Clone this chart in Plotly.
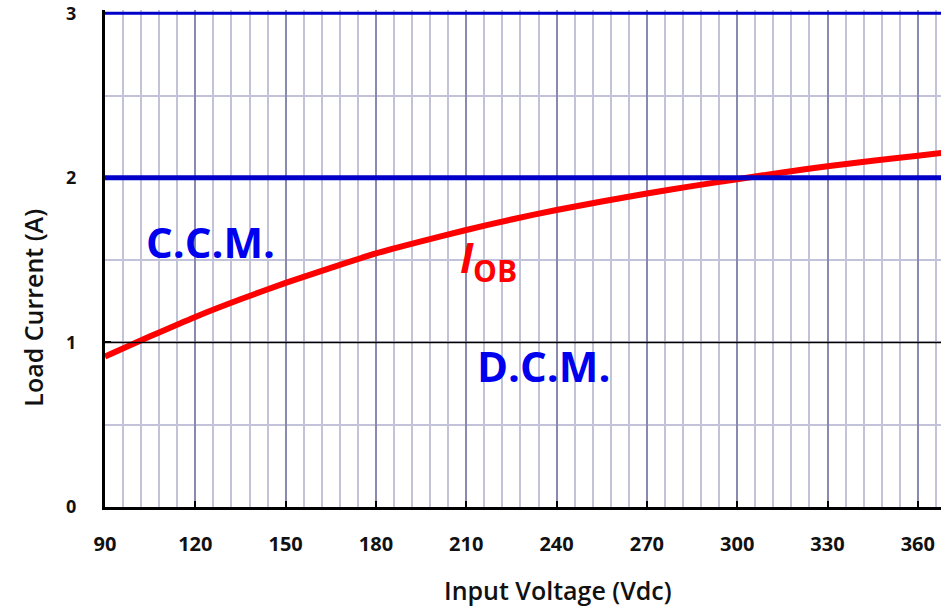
import plotly.graph_objects as go

# Input voltage (Vdc) and boundary load current I_OB (A)
voltage = [90, 105, 120, 135, 150, 165, 180, 195, 210, 225, 240, 255, 270, 285, 300, 315, 330, 345, 360, 368]
i_ob = [0.915, 1.037, 1.155, 1.262, 1.362, 1.453, 1.541, 1.614, 1.683, 1.747, 1.805, 1.856, 1.905, 1.950,
        1.992, 2.033, 2.071, 2.104, 2.134, 2.152]

x_ticks = [90, 120, 150, 180, 210, 240, 270, 300, 330, 360]
y_ticks = [0, 1, 2, 3]
rated_current = 2      # CCM/DCM design limit line
max_current = 3        # top limit line
unit_line = 1

fig = go.Figure()
fig.add_trace(go.Scatter(x=voltage, y=i_ob, mode="lines",
                         line=dict(color="#ff0000", width=6, shape="spline", smoothing=0.6),
                         showlegend=False, hoverinfo="skip"))

shapes = [
    dict(type="line", xref="paper", x0=0, x1=1, yref="y", y0=unit_line, y1=unit_line,
         line=dict(color="black", width=1.5), layer="above"),
    dict(type="line", xref="paper", x0=0, x1=1, yref="y", y0=rated_current, y1=rated_current,
         line=dict(color="#0000c8", width=5), layer="above"),
    dict(type="line", xref="paper", x0=0, x1=1, yref="y", y0=max_current, y1=max_current,
         line=dict(color="#0000c8", width=3), layer="above"),
]

font_family = "Open Sans, Lato, sans-serif"

fig.update_layout(
    width=941, height=606,
    margin=dict(l=105, r=0, t=10, b=99),
    paper_bgcolor="white", plot_bgcolor="white",
    shapes=shapes,
    showlegend=False,
    xaxis=dict(
        range=[90, 367.7], tickvals=x_ticks, ticktext=[str(v) for v in x_ticks],
        showgrid=True, gridcolor="#8a8ab0", gridwidth=2,
        minor=dict(dtick=6, tick0=90, showgrid=True, gridcolor="#c2c2d8", gridwidth=2),
        ticks="inside", ticklen=6, tickwidth=2, tickcolor="black",
        showline=True, linecolor="black", linewidth=3, zeroline=False,
        tickfont=dict(family=font_family, size=20, color="#111", weight="bold"),
        ticklabelstandoff=17,
    ),
    yaxis=dict(
        range=[0, 3.02], tickvals=y_ticks, ticktext=[str(v) for v in y_ticks],
        showgrid=False,
        minor=dict(dtick=0.5, showgrid=True, gridcolor="#c2c2d8", gridwidth=2),
        ticks="inside", ticklen=6, tickwidth=2, tickcolor="black",
        showline=True, linecolor="black", linewidth=3, zeroline=False,
        tickfont=dict(family=font_family, size=18, color="#111", weight="bold"),
        ticklabelstandoff=22,
    ),
    annotations=[
        dict(x=0.542, y=0, xref="paper", yref="paper", yshift=-83, xanchor="center", yanchor="middle",
             text="Input Voltage (Vdc)", showarrow=False,
             font=dict(family=font_family, size=25, color="#111", weight=600)),
        dict(x=0, y=0.401, xref="paper", yref="paper", xshift=-72, xanchor="center", yanchor="middle",
             text="Load Current (A)", textangle=-90, showarrow=False,
             font=dict(family=font_family, size=25, color="#111", weight=600)),
        dict(x=124.9, y=1.613, xref="x", yref="y", text="C.C.M.", showarrow=False,
             font=dict(family=font_family, size=42, color="#0000ee", weight="bold")),
        dict(x=235.5, y=0.858, xref="x", yref="y", text="D.C.M.", showarrow=False,
             font=dict(family=font_family, size=42, color="#0000ee", weight="bold")),
        dict(x=210.3, y=1.52, xref="x", yref="y", text="<i>I</i>", showarrow=False,
             font=dict(family=font_family, size=42, color="#ff0000", weight="bold")),
        dict(x=219.4, y=1.436, xref="x", yref="y", text="OB", showarrow=False,
             font=dict(family=font_family, size=30, color="#ff0000", weight="bold")),
    ],
)

fig.write_html("out.html")
